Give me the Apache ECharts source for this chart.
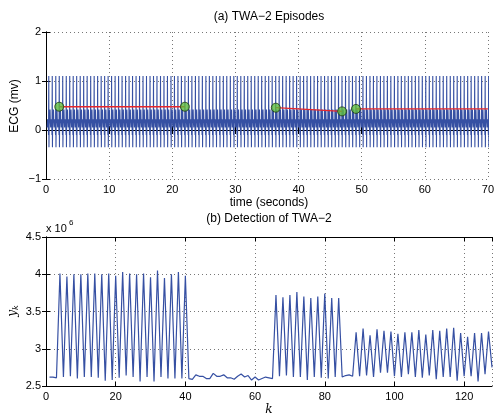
<!DOCTYPE html>
<html>
<head>
<meta charset="utf-8">
<title>TWA-2</title>
<script src="https://cdn.jsdelivr.net/npm/echarts@6/dist/echarts.min.js"></script>
<style>
  html, body { margin: 0; padding: 0; background: #fff; }
  #chart { width: 497px; height: 419px; }
</style>
</head>
<body>
<div id="chart"></div>
<script>
// R-peak times of each beat (seconds)
const beatTimes = [
  0.44, 0.99, 1.55, 2.10, 2.65, 3.21, 3.76, 4.31, 4.86, 5.42,
  5.97, 6.52, 7.08, 7.63, 8.18, 8.74, 9.29, 9.84, 10.39, 10.95,
  11.50, 12.05, 12.61, 13.16, 13.71, 14.27, 14.82, 15.37, 15.92, 16.48,
  17.03, 17.58, 18.14, 18.69, 19.24, 19.80, 20.35, 20.90, 21.45, 22.01,
  22.56, 23.11, 23.67, 24.22, 24.77, 25.33, 25.88, 26.43, 26.98, 27.54,
  28.09, 28.64, 29.20, 29.75, 30.30, 30.86, 31.41, 31.96, 32.51, 33.07,
  33.62, 34.17, 34.73, 35.28, 35.83, 36.39, 36.94, 37.49, 38.04, 38.60,
  39.15, 39.70, 40.26, 40.81, 41.36, 41.92, 42.47, 43.02, 43.57, 44.13,
  44.68, 45.23, 45.79, 46.34, 46.89, 47.45, 48.00, 48.55, 49.10, 49.66,
  50.21, 50.76, 51.32, 51.87, 52.42, 52.98, 53.53, 54.08, 54.63, 55.19,
  55.74, 56.29, 56.85, 57.40, 57.95, 58.51, 59.06, 59.61, 60.16, 60.72,
  61.27, 61.82, 62.38, 62.93, 63.48, 64.04, 64.59, 65.14, 65.69, 66.25,
  66.80, 67.35, 67.91, 68.46, 69.01, 69.57, 70.12, 70.67
];
// one beat: time offset from R peak (s) and amplitude (mV)
const beatOffsets = [-0.25, -0.20, -0.15, -0.09, -0.04, 0.0, 0.03, 0.06, 0.11, 0.16, 0.20, 0.25, 0.30];
const beatValues  = [0.05, 0.22, 0.08, 0.18, -0.10, 1.10, -0.35, 0.12, 0.28, 0.20, 0.42, 0.15, 0.05];

// TWA episodes (red lines) and their end markers
const episodeTimes  = [[2.1, 22.0], [36.4, 46.9], [49.1, 70]];
const episodeLevels = [[0.475, 0.475], [0.455, 0.38], [0.43, 0.43]];
const markerTimes  = [2.1, 22.0, 36.4, 46.9, 49.1];
const markerLevels = [0.475, 0.475, 0.455, 0.38, 0.43];

// detection statistic y_k (x 10^6), k = 1..128
const detection = [
  2.62, 2.62, 2.61, 4.01, 2.62, 3.97, 2.63, 4.00, 2.60, 4.00,
  2.62, 4.01, 2.62, 4.01, 2.61, 4.00, 2.57, 4.01, 2.58, 3.98,
  2.61, 4.03, 2.64, 4.01, 2.62, 4.00, 2.56, 4.01, 2.62, 3.96,
  2.56, 4.05, 2.62, 3.95, 2.60, 4.00, 2.60, 4.03, 2.60, 3.98,
  2.60, 2.59, 2.65, 2.63, 2.63, 2.60, 2.60, 2.67, 2.63, 2.63,
  2.65, 2.61, 2.61, 2.59, 2.63, 2.66, 2.62, 2.64, 2.58, 2.62,
  2.58, 2.60, 2.62, 2.61, 2.60, 3.72, 2.63, 3.69, 2.64, 3.72,
  2.62, 3.76, 2.62, 3.70, 2.58, 3.68, 2.62, 3.70, 2.61, 3.74,
  2.60, 3.68, 2.62, 3.68, 2.62, 2.64, 2.65, 2.63, 3.22, 2.63,
  3.27, 2.64, 3.18, 2.62, 3.26, 2.68, 3.24, 2.68, 3.23, 2.63,
  3.20, 2.62, 3.22, 2.66, 3.22, 2.62, 3.25, 2.61, 3.19, 2.64,
  3.25, 2.59, 3.24, 2.62, 3.27, 2.62, 3.28, 2.57, 3.21, 2.63,
  3.16, 2.63, 3.21, 2.56, 3.21, 2.66, 3.23, 2.75
];

const blue = '#3650a3';
const font = 'Liberation Sans, Arial, Helvetica, sans-serif';

const ecg = [];
beatTimes.forEach(t => {
  beatOffsets.forEach((d, i) => ecg.push([t + d, beatValues[i]]));
});
const detData = detection.map((v, i) => [i + 1, v]);

const chart = echarts.init(document.getElementById('chart'));

const tickStyle = { inside: true, length: 4, lineStyle: { color: '#000' } };
const axisLineStyle = { show: true, lineStyle: { color: '#000', width: 1 } };
const gridLine = { show: true, lineStyle: { color: '#777', type: [1, 3], width: 1 } };
const labelStyle = { color: '#000', fontSize: 11, fontFamily: font };

function xAx(grid, min, max, interval, pos) {
  return {
    type: 'value', gridIndex: grid, min: min, max: max, interval: interval, position: pos,
    axisLine: axisLineStyle, axisTick: tickStyle,
    axisLabel: pos === 'bottom'
      ? Object.assign({ margin: 5, showMaxLabel: max % interval === 0, formatter: v => String(v) }, labelStyle)
      : { show: false },
    splitLine: pos === 'bottom' ? gridLine : { show: false }
  };
}
function yAx(grid, min, max, interval, pos, fmt) {
  return {
    type: 'value', gridIndex: grid, min: min, max: max, interval: interval, position: pos,
    axisLine: axisLineStyle, axisTick: tickStyle,
    axisLabel: pos === 'left' ? Object.assign({ margin: 5, formatter: fmt }, labelStyle) : { show: false },
    splitLine: pos === 'left' ? gridLine : { show: false }
  };
}

const series = [
  {
    type: 'line', xAxisIndex: 0, yAxisIndex: 0, data: ecg,
    showSymbol: false, lineStyle: { color: blue, width: 1.1 }, z: 2
  }
];
episodeTimes.forEach((seg, i) => {
  series.push({
    type: 'line', xAxisIndex: 0, yAxisIndex: 0,
    data: [[seg[0], episodeLevels[i][0]], [seg[1], episodeLevels[i][1]]],
    showSymbol: false, lineStyle: { color: '#e8262a', width: 1.3 }, z: 3
  });
});
series.push({
  type: 'scatter', xAxisIndex: 0, yAxisIndex: 0,
  data: markerTimes.map((t, i) => [t, markerLevels[i]]),
  symbolSize: 9,
  itemStyle: { color: '#5cba3c', borderColor: '#1e3a12', borderWidth: 1 }, z: 4
});
series.push({
  type: 'line', xAxisIndex: 2, yAxisIndex: 2, data: detData,
  showSymbol: false, lineStyle: { color: blue, width: 1.2 }
});

const minus = v => String(v).replace('-', '\u2212');

chart.setOption({
  animation: false,
  backgroundColor: '#fff',
  grid: [
    { left: 46, top: 32, width: 446, height: 147 },
    { left: 46, top: 237, width: 446, height: 149 }
  ],
  xAxis: [
    xAx(0, 0, 70, 10, 'bottom'),
    xAx(0, 0, 70, 10, 'top'),
    xAx(1, 0, 128, 20, 'bottom'),
    xAx(1, 0, 128, 20, 'top')
  ],
  yAxis: [
    yAx(0, -1, 2, 1, 'left', minus),
    yAx(0, -1, 2, 1, 'right'),
    yAx(1, 2.5, 4.5, 0.5, 'left', v => String(v)),
    yAx(1, 2.5, 4.5, 0.5, 'right')
  ],
  series: series,
  graphic: [
    { type: 'text', x: 269, y: 17, style: { text: '(a) TWA\u22122 Episodes', font: '12px ' + font, fill: '#000', align: 'center', verticalAlign: 'middle' } },
    { type: 'text', x: 269, y: 203, style: { text: 'time (seconds)', font: '12px ' + font, fill: '#000', align: 'center', verticalAlign: 'middle' } },
    { type: 'text', x: 15, y: 106, rotation: Math.PI / 2, style: { text: 'ECG (mv)', font: '12px ' + font, fill: '#000', align: 'center', verticalAlign: 'middle' } },
    { type: 'text', x: 269, y: 219, style: { text: '(b) Detection of TWA\u22122', font: '12px ' + font, fill: '#000', align: 'center', verticalAlign: 'middle' } },
    { type: 'text', x: 46, y: 229, style: { text: 'x 10', font: '11px ' + font, fill: '#000', verticalAlign: 'middle' } },
    { type: 'text', x: 69, y: 223, style: { text: '6', font: '8px ' + font, fill: '#000', verticalAlign: 'middle' } },
    { type: 'text', x: 269, y: 410, style: { text: 'k', font: 'italic 12px DejaVu Serif, serif', fill: '#000', align: 'center', verticalAlign: 'middle' } },
    {
      type: 'text', x: 13, y: 311, rotation: Math.PI / 2,
      style: {
        text: '{y|y}{k|k}', align: 'center', verticalAlign: 'middle',
        rich: {
          y: { font: 'italic 12px DejaVu Serif, serif', fill: '#000' },
          k: { font: 'italic 8px DejaVu Serif, serif', fill: '#000', padding: [6, 0, 0, 0] }
        }
      }
    }
  ]
});
</script>
</body>
</html>
